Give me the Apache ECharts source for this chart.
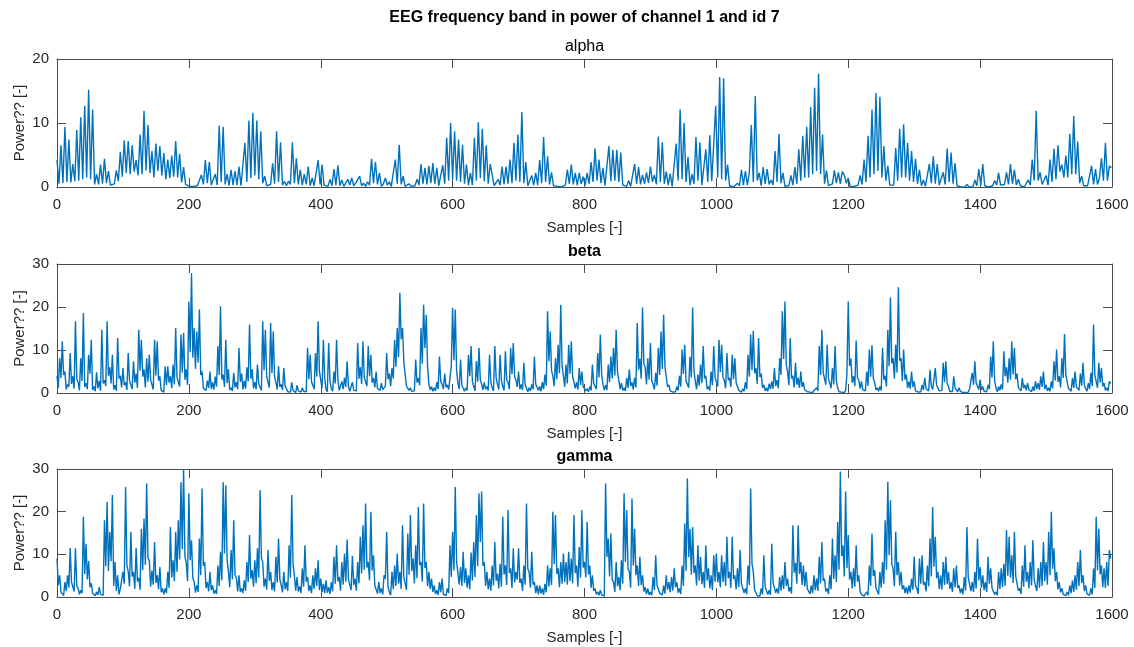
<!DOCTYPE html>
<html>
<head>
<meta charset="utf-8">
<title>EEG frequency band power</title>
<script src="https://cdn.jsdelivr.net/npm/echarts/dist/echarts.min.js"></script>
<style>
  html, body { margin: 0; padding: 0; background: #ffffff; }
  #main { width: 1134px; height: 647px; }
</style>
</head>
<body>
<div id="main"></div>
<script>
// ---- data -------------------------------------------------------------
const mainTitle = 'EEG frequency band in power of channel 1 and id 7';
const bandNames = ['alpha', 'beta', 'gamma'];
const bandTitleWeight = ['normal', 'bold', 'bold'];
const xLabel = 'Samples [-]';
const yLabel = 'Power?? [-]';
const xTickMin = 0, xTickMax = 1600, xTickStep = 200;
const yTickMax = [20, 30, 30];
const yTickStep = 10;

// alpha band power, one value every 3 samples
const alphaStep = 3;
const alphaPower = [
  4.2,0.5,6.5,0.6,9.4,0.8,7.4,0.7,3.6,0.9,8.9,1.0,10.9,1.2,12.7,1.5,15.2,1.2,12.1,0.4,
  2.0,0.4,3.5,0.5,4.4,0.6,2.5,0.3,0.2,0.5,2.6,0.9,5.5,1.6,7.3,2.2,7.2,2.0,6.5,2.4,
  4.2,1.8,8.2,2.0,11.9,2.6,9.7,2.2,5.6,1.5,6.8,2.5,6.4,1.8,5.3,1.2,4.3,1.4,4.9,1.6,
  7.2,1.5,5.2,0.7,3.1,0.4,0.1,0.1,0.0,0.1,0.0,0.2,0.5,1.9,0.4,4.2,0.6,3.9,0.3,0.2,
  2.0,0.3,9.6,0.8,9.4,0.4,2.0,0.2,2.7,0.3,2.5,0.3,3.2,0.2,0.5,6.9,0.8,10.4,1.4,11.6,
  1.8,10.4,1.2,8.7,0.6,1.7,0.2,0.1,0.4,3.7,0.5,8.7,0.8,7.0,0.3,0.9,0.2,0.9,0.4,7.0,
  0.6,4.5,0.4,2.7,0.3,2.0,0.4,3.2,0.2,1.4,0.2,0.3,4.2,0.4,3.5,0.3,0.2,0.1,1.2,0.2,
  2.8,0.3,3.4,0.2,1.1,0.1,0.2,1.2,0.3,1.4,0.2,0.6,0.3,1.7,0.2,0.6,0.1,0.8,0.3,4.4,
  0.6,3.9,0.4,2.2,0.1,0.5,1.4,0.3,0.8,0.1,0.2,4.3,0.5,6.6,0.4,1.7,0.1,0.1,0.5,0.1,
  0.1,0.2,1.2,0.3,3.6,0.5,3.0,0.4,3.3,0.6,3.75,0.5,3.0,0.2,0.1,3.4,0.5,7.7,1.0,10.0,
  1.2,8.7,1.0,7.4,0.8,6.6,0.5,3.5,0.3,2.2,0.3,7.7,1.0,10.1,1.4,9.1,0.9,6.5,0.5,3.6,
  1.9,0.2,0.1,1.2,0.3,3.2,0.4,3.2,0.5,4.3,0.6,6.9,1.0,8.2,0.8,11.7,0.6,3.9,0.2,0.5,
  1.8,0.3,2.2,0.3,4.2,0.6,7.8,0.8,4.8,0.4,2.3,0.2,0.4,0.1,0.1,0.0,0.1,0.3,2.7,0.5,
  3.5,0.4,2.2,0.3,2.2,0.5,1.6,0.3,2.2,0.5,3.9,0.8,6.0,1.0,4.3,0.6,3.0,0.2,0.3,6.4,
  0.9,5.8,1.0,5.8,0.8,5.4,0.3,0.2,0.1,1.0,0.1,0.2,3.6,0.5,3.1,0.4,1.9,0.5,2.3,0.6,
  3.2,0.8,1.9,0.4,7.9,0.8,7.0,0.5,2.4,0.3,2.1,0.1,0.3,6.8,1.0,12.1,1.2,10.0,0.8,4.7,
  0.3,2.0,0.5,7.8,1.0,7.0,0.3,0.6,5.9,0.8,8.1,0.9,0.6,12.7,1.5,17.2,1.2,17.0,1.0,3.5,
  0.2,0.1,0.0,0.1,0.6,0.2,2.7,0.3,2.5,0.3,2.3,9.7,0.8,14.2,1.0,2.2,0.2,3.1,0.5,2.8,
  0.4,1.1,0.3,5.6,0.8,8.3,0.6,2.2,0.1,0.1,0.2,1.8,0.3,3.1,0.5,5.9,1.0,8.0,1.5,9.4,
  1.5,12.5,2.0,15.5,2.5,17.7,2.0,8.2,0.5,2.6,0.2,0.1,0.5,2.6,0.6,2.3,0.5,2.4,1.9,0.6,
  1.4,0.1,0.0,0.1,0.0,0.3,1.8,0.4,4.3,0.8,8.0,1.5,12.1,2.0,14.7,2.5,14.1,1.5,6.4,1.0,
  3.3,0.3,0.0,0.3,6.1,1.0,9.1,1.5,9.8,1.5,6.9,1.0,5.6,0.8,4.4,0.5,2.7,0.2,1.1,0.1,
  0.2,3.6,0.6,4.8,0.5,3.6,0.3,0.2,2.3,0.4,6.0,0.8,5.4,0.5,3.75,0.2,0.1,0.0,0.1,0.0,
  0.4,0.0,0.1,0.0,1.1,0.2,2.8,0.3,3.6,0.2,0.1,0.0,0.1,0.2,1.0,0.3,2.2,0.3,0.2,0.4,
  2.3,0.4,3.6,0.5,2.7,0.3,1.2,0.2,0.1,0.0,0.1,1.1,0.3,4.3,1.0,11.9,1.0,2.3,0.4,0.1,
  1.8,0.3,4.3,0.8,6.0,1.2,6.5,2.4,3.5,1.5,4.9,1.5,8.3,2.0,11.1,2.0,7.1,0.6,1.7,0.2,
  0.1,0.2,0.5,3.3,0.4,2.8,0.4,1.4,4.5,1.0,6.9,1.0,3.3,3.0
];

// beta band power, one value every 2 samples
const betaStep = 2;
const betaPower = [
  4,1.2,8.1,3.5,12,4.2,5,0.8,2,1.5,9.3,2.1,3.9,1.0,16.7,3.2,2.5,0.6,8.1,2.8,18.6,1.4,2.3,0.9,8.9,4.5,12.4,0.7,1.5,0.4,4.8,1.1,2.8,0.5,14.7,2.2,3.0,1.6,16.7,4.0,6,2.2,8.9,0.8,1.8,0.5,12.8,3.4,4,1.3,
  5.8,1.8,2.5,0.7,9.3,2.9,2.7,0.9,7.4,2.4,4.5,1.2,14.7,5.2,12.4,3.8,5.5,1.3,8.1,2.6,8.9,3.1,3.5,0.8,12.4,4.1,12,2.9,3.9,0.6,0.4,0.2,6.2,1.9,6.2,2.4,3.9,1.1,6.6,2.0,15.1,3.6,4.0,1.5,13.6,4.8,14.0,3.1,5.5,1.9,
  21.3,9.5,27.9,8.2,15.1,5.6,14.3,7.1,19.4,4.2,5,1.1,1.5,0.6,2.9,1.2,5,0.9,2.5,0.8,3.8,1.5,10.9,4.2,20.2,3.1,4.3,1.4,12.4,2.3,5.5,0.7,1.2,0.5,4.7,1.3,2.5,0.9,10.5,2.6,4.5,0.8,2.8,1.0,6,2.7,15.9,3.3,5.5,1.1,
  2.5,0.9,6.6,2.1,2.0,0.6,16.7,5.3,14.7,3.9,3.5,1.2,16.3,4.6,14.3,3.7,2.5,0.8,6.2,1.4,2.0,0.7,5.8,1.6,1.0,0.3,0.5,0.2,2.5,0.6,0.4,0.1,1.8,0.5,0.3,0.2,1.2,0.4,0.8,0.3,10.5,3.2,8.9,2.6,2.2,0.9,9.3,3.8,16.7,5.1,
  3,1.1,12.4,3.6,0.8,0.3,11.6,2.8,1.0,0.4,5,2.2,12.4,3.1,0.6,0.2,2.7,0.9,3.5,1.4,7.4,1.5,0.4,0.2,2.5,0.6,0.8,0.5,11.6,3.3,6,2.1,12,3.6,4,1.6,10.9,3.9,8.9,2.4,3.5,1.3,5,1.1,1.5,0.6,2.3,0.8,1.2,1.6,
  9.3,3.2,4.5,1.6,5.8,3.4,12.4,6.1,15.1,8.3,23.3,12.5,15.1,7.2,4.3,1.6,1.9,0.6,1.2,0.4,0.8,0.5,7.8,2.4,3.5,1.8,15.1,6.8,20.5,10.4,18.2,6.2,2.0,0.7,1.5,0.4,1.2,0.5,2.5,0.9,8.5,2.7,2.0,0.9,4.5,1.3,1.9,0.8,3.5,6.4,
  19.8,7.6,19.4,5.4,2.3,0.9,7.8,1.8,1.5,0.4,1.2,0.6,8.9,3.9,10.9,2.7,1.5,0.5,7.4,2.6,10.5,3.1,2.0,0.7,2.5,0.9,1.5,0.6,8.9,2.4,1.2,0.5,10.9,3.5,2.0,0.8,8.9,2.9,1.5,0.6,9.7,3.0,2.5,0.9,10.5,4.4,11.6,3.8,3,1.4,
  5,0.9,2,0.7,7,1.9,1.5,0.3,1.2,0.5,2,0.8,8.5,2.1,2.5,0.6,1.5,0.4,2.5,0.9,4.3,1.7,19,7.4,14.3,5.2,4,1.6,8.1,3.2,11.2,4.6,20.5,6.3,4,1.4,6.6,2.2,11.2,4.5,12,3.9,4,1.1,2.5,0.8,5.8,1.9,5,1.5,
  1.9,0.5,1.0,0.3,1.5,0.6,6.6,2.2,2.5,0.9,9.3,3.6,13.6,4.3,2.0,0.6,1.9,0.7,6.6,2.5,8.5,3.4,10.5,4.1,14.7,5.0,3.0,0.9,2.3,0.6,1.2,0.5,3.5,1.2,5.5,1.6,2.5,0.8,3.5,1.3,16.3,5.4,8,3.3,19.9,6.8,6,2.0,8.1,3.1,
  11.6,2.9,2.0,0.8,4.7,1.7,10.5,4.2,14.3,5.6,18.2,6.1,5.8,1.4,1.9,0.5,0.8,0.2,0.4,0.3,1.5,0.6,4,1.5,10.1,4.4,11.2,2.8,3,1.2,8.5,3.6,19.9,5.2,2.7,0.9,4.3,1.7,6.6,2.3,10.9,3.4,4,0.9,1.5,0.6,5,1.8,10.9,3.6,
  4,1.5,12.4,4.9,11.2,3.6,3,1.1,9.3,3.0,3.5,1.4,8.9,3.2,8.1,2.4,2,0.6,0.6,0.2,1.0,0.4,2.5,0.9,8.9,3.8,13.6,5.3,14.5,4.6,5.8,2.1,12.8,3.7,4.5,1.2,1.9,0.5,1.2,0.4,2.2,0.9,2.7,1.0,5.8,1.6,3,1.1,8.1,4.2,
  19,7.9,21.3,6.5,5,1.8,12.8,3.4,4,1.3,7,1.9,3.5,1.2,5,1.4,2.5,0.7,1.0,0.3,0.5,0.2,0.3,0.1,0.6,0.3,1.2,0.5,10.9,4.2,14.7,4.8,5,1.9,11.2,3.4,3.5,1.1,5.8,2.0,10.9,2.8,1.2,0.3,0.6,0.2,0.3,0.1,0.6,4.5,
  21.3,6.3,8,2.4,3.9,1.6,12.2,3.5,3,1.0,2.7,0.8,1.2,0.5,5,1.7,10.1,3.8,11.1,3.4,2.5,0.7,1.2,0.4,1.5,0.6,10.5,3.1,4,1.5,14.7,6.2,22.2,6.9,8.1,3.3,11.2,4.7,24.6,7.5,8.1,2.8,10.1,3.1,4.3,1.2,2.7,1.0,5,1.4,
  2.7,0.5,0.6,0.2,0.4,0.3,1.9,0.7,3.5,1.0,1.2,0.5,5.4,1.6,0.8,0.4,5.8,1.8,1.5,0.5,0.9,0.6,7,2.5,7.4,2.2,1.5,0.4,0.5,0.3,3.9,1.1,1.0,0.3,1.2,0.4,0.4,0.1,0.3,0.1,0.4,0.2,1.0,0.6,4.7,1.9,7.4,2.3,1.9,0.8,
  3.1,0.7,1.5,0.4,0.8,0.3,1.9,0.9,8.5,3.6,12,2.8,1.2,0.3,1.5,0.6,2.0,0.8,9.7,3.9,6,2.4,8.1,3.1,12,4.3,10.5,3.2,4.5,1.2,1.5,0.5,3.5,1.1,1.9,0.6,2.3,0.7,0.8,0.3,1.5,0.5,2.7,0.9,2.3,0.8,3.9,1.4,5,0.9,
  1.9,0.5,1.2,0.4,2.7,1.1,7.4,2.9,10.1,2.6,3.9,1.3,8.1,3.5,13.7,4.2,4.3,1.1,1.0,0.4,3.5,1.2,5,1.4,1.5,0.6,4.5,1.7,7,1.9,1.0,0.4,2.3,0.9,4.7,1.6,15.9,4.1,2.7,1.2,7,2.4,5.8,1.5,2.3,0.6,1.2,0.5,2.7,2.2
];

// gamma band power, one value every 2 samples
const gammaStep = 2;
const gammaPower = [
  9,2.8,5.1,1.2,0.8,0.3,3.5,1.4,5.1,2.2,11.5,3.5,3.9,1.3,11.4,2.6,2.0,0.6,1.6,0.9,18.8,5.4,12.5,4.1,8.4,2.3,3.2,0.9,0.8,0.3,1.2,0.5,2.3,0.6,0.8,0.4,18,7.2,22.3,6.1,15.3,8.4,23.9,2.6,8.2,1.4,5.1,0.6,1.9,1.8,
  5.9,3.1,25.8,7.4,6.0,2.5,15.3,4.8,5.9,1.9,11.5,3.6,4.5,1.7,16,6.3,18.4,7.5,26.6,9.1,8.6,2.4,6.2,2.9,12.9,3.3,5.1,1.8,7,1.1,2.0,0.6,2.0,0.9,5.9,2.1,16.4,4.6,8.6,3.7,15.3,5.9,18,8.8,26.9,11.2,30,9.4,8,3.7,
  24.3,8.6,13.3,4.4,3.5,1.0,2.7,1.2,13.7,5.1,25.4,7.3,8.2,2.1,3.5,1.3,5.9,1.6,2.7,0.8,1.6,0.7,7.4,2.6,10.6,3.9,26.9,10.2,26.2,8.7,5.9,2.3,11,4.1,18,5.2,4.5,1.3,5.1,1.2,2.0,0.9,3.9,1.4,8.2,3.5,14.5,4.3,6.3,2.4,
  8.6,3.2,11.4,4.6,25.1,9.1,8.2,2.4,4.3,1.7,11,3.8,5.9,1.6,3.5,1.3,9.4,3.4,13.7,4.1,2.7,1.1,5.9,1.8,3.5,1.4,12.1,4.5,23.9,7.6,5.1,1.5,4.7,1.3,2.5,0.9,6.7,2.4,12.1,3.6,4.7,1.4,2.7,0.9,5.1,1.9,6.7,2.6,8.6,1.6,
  4.3,1.2,3.1,0.9,3.9,1.0,2.3,0.7,3.5,1.3,9.4,3.1,12.1,3.7,4.7,1.5,8.2,2.9,10.2,3.6,13.5,4.2,4.3,1.6,9.6,2.8,4.3,1.5,8.2,3.2,14.1,5.5,16.8,6.4,21.9,6.9,8.2,3.9,20,6.2,9.8,2.7,2.3,0.8,3.5,0.9,2.0,0.6,5.1,4.3,
  15.3,2.4,1.2,0.4,5.9,1.8,7.4,2.6,10.2,3.1,5.9,1.9,16.8,4.6,4.3,1.7,14.9,5.2,19.2,6.1,9,3.2,12.1,4.4,21.1,7.5,8.2,3.6,21.9,6.8,8.2,2.5,5.9,1.9,4.3,1.2,2.7,0.7,1.6,0.5,3.5,1.1,4.3,0.6,0.8,0.3,2.0,0.9,12.1,4.7,
  15.3,6.2,25.8,8.4,8.2,2.9,7,2.6,10.6,3.3,6.7,2.2,5.1,1.8,10.4,3.9,12.9,4.7,19.2,7.2,24.3,12.9,24.7,7.3,8.2,2.6,5.9,1.8,4.3,1.5,7.4,2.7,12.9,3.8,5.5,2.0,7.8,2.4,18.8,5.3,7.4,2.8,20.4,5.6,6.7,2.1,11.4,3.4,5.9,4.1,
  11.4,3.3,4.3,1.4,7.4,2.9,21.9,6.6,5.9,2.2,10.6,2.9,3.5,0.9,2.7,0.6,2.7,0.8,2.0,0.5,3.1,1.1,7.4,2.5,6.7,2.8,20,7.7,19.2,5.4,6.7,2.3,8.2,3.1,10.2,3.5,8.2,2.9,10.6,3.7,9,3.2,19.2,5.6,7.4,2.4,11.7,4.5,20.4,6.9,
  8.2,4.6,17.6,5.3,7.4,2.1,5.1,1.4,2.0,0.6,1.2,0.4,1.6,0.5,0.4,0.2,26.6,9.4,13.7,4.8,14.9,4.1,3.5,1.2,8.2,2.5,4.7,1.6,8.6,3.1,24.3,8.2,20.4,6.6,5.9,2.2,23.1,7.4,16,5.1,7.4,2.6,9.4,2.8,5.1,1.3,2.3,0.7,2.0,0.5,
  1.2,0.4,4.7,1.6,9.8,2.8,3.1,0.9,1.2,0.5,2.7,0.8,5.1,1.7,3.5,1.1,4.7,1.5,6.7,2.3,3.5,1.0,2.0,0.7,7.4,2.6,17.2,6.1,27.8,9.3,16,5.2,16.4,5.6,7.4,2.7,12.1,3.8,9.4,3.0,5.9,2.1,12.1,3.9,6.7,2.0,5.1,1.6,9.8,3.6,
  10.2,3.4,5.9,2.3,9.8,3.5,8.2,2.6,14.1,4.4,5.9,2.1,14.1,4.2,5.1,1.8,6.7,2.3,11,3.1,3.5,1.0,2.0,0.7,7.4,2.8,25.4,7.9,5.9,1.6,1.0,0.3,0.4,0.2,2.0,0.6,9.8,2.4,2.0,0.6,1.6,0.5,12.5,3.3,3.5,1.0,2.0,0.8,4.7,1.5,
  5.1,1.9,8.2,2.6,4.3,1.3,2.3,0.8,16.8,5.7,8,3.1,16.8,5.4,8.2,2.8,7.4,2.5,5.9,1.9,2.0,0.7,2.7,0.9,5.1,1.6,4.3,1.4,9.4,3.2,12.9,3.8,4.3,1.3,2.0,0.7,5.1,1.8,13.7,4.2,9.8,3.5,17.6,6.4,29.4,9.6,12.1,4.8,24.7,6.8,
  14.5,4.1,5.9,2.0,6.7,2.4,12.1,3.6,5.1,1.2,0.6,0.2,0.2,0.1,1.2,0.4,7.4,2.6,14.9,4.9,6.3,2.1,2.0,0.6,5.9,2.2,8.2,3.1,18,6.4,27,9.8,22.7,7.7,6.7,2.5,15.3,5.1,8.2,2.7,5.9,1.8,2.7,0.9,2.3,0.7,2.7,1.0,4.3,1.7,
  9.4,2.6,2.0,0.7,9,3.1,9.8,2.9,3.5,1.3,7.4,2.5,13.7,4.8,21.1,7.1,14.1,4.4,5.9,1.9,5.1,1.7,8.2,2.8,9.4,3.0,5.9,1.9,3.5,1.2,6.7,2.3,7.4,2.1,2.7,0.9,2.0,0.6,4.7,1.5,16.4,4.6,4.3,1.4,3.5,1.2,5.9,2.0,13.7,3.9,
  7,2.2,5.1,1.6,3.5,1.2,9.4,3.1,6.7,2.1,2.0,0.6,1.2,0.4,5.9,1.9,6.7,2.3,7.8,2.6,15.7,5.0,14.1,4.5,9.8,3.3,15.3,4.8,5.1,1.5,2.0,0.7,7.4,2.4,12.1,3.6,5.9,2.0,8.2,2.7,13.3,3.9,4.3,1.4,6.7,2.2,8.2,2.6,12.9,3.7,
  8.2,2.9,15.3,5.1,20,6.6,11.4,3.7,5.9,1.8,3.5,1.1,2.0,0.6,0.8,0.3,1.2,0.4,2.7,0.9,3.9,1.2,5.1,1.7,8.2,2.6,11,3.3,5.1,1.4,2.7,0.8,1.2,0.4,2.0,0.6,6.7,2.1,18.8,6.2,16,5.3,7.4,2.3,6.7,2.1,8.2,2.6,11,9
];

const bandPower = [alphaPower, betaPower, gammaPower];
const bandStep = [alphaStep, betaStep, gammaStep];

// ---- layout -----------------------------------------------------------
const fontFamily = '"Liberation Sans", Arial, Helvetica, sans-serif';
const textColor = '#262626';
const axisColor = '#4a4a4a';
const lineColor = '#0072BD';
const plotLeft = 57, plotRight = 22;
const panels = [
  { top: 59, height: 128 },
  { top: 264, height: 129 },
  { top: 469, height: 128 }
];
const centerX = 57 + (1134 - 57 - 22) / 2;

const grid = panels.map(p => ({
  left: plotLeft, right: plotRight, top: p.top, height: p.height,
  show: false, containLabel: false
}));

const xAxis = [];
const yAxis = [];
const series = [];
const plainNumber = v => String(v);

bandNames.forEach((name, k) => {
  // bottom axis with labels
  xAxis.push({
    type: 'value', gridIndex: k, position: 'bottom',
    min: xTickMin, max: xTickMax, interval: xTickStep,
    name: xLabel, nameLocation: 'middle', nameGap: 33, nameMoveOverlap: false,
    nameTextStyle: { fontFamily, fontSize: 15, color: textColor },
    axisLine: { show: true, onZero: false, lineStyle: { color: axisColor, width: 1 } },
    axisTick: { show: true, inside: true, length: 9, lineStyle: { color: axisColor } },
    axisLabel: { show: true, fontFamily, fontSize: 15, color: textColor, margin: 10, formatter: plainNumber },
    splitLine: { show: false }
  });
  // top border axis
  xAxis.push({
    type: 'value', gridIndex: k, position: 'top',
    min: xTickMin, max: xTickMax, interval: xTickStep,
    axisLine: { show: true, onZero: false, lineStyle: { color: axisColor, width: 1 } },
    axisTick: { show: true, inside: true, length: 9, lineStyle: { color: axisColor } },
    axisLabel: { show: false },
    splitLine: { show: false }
  });
  // left axis with labels
  yAxis.push({
    type: 'value', gridIndex: k, position: 'left',
    min: 0, max: yTickMax[k], interval: yTickStep,
    name: yLabel, nameLocation: 'middle', nameGap: 30, nameRotate: 90, nameMoveOverlap: false,
    nameTextStyle: { fontFamily, fontSize: 15, color: textColor },
    axisLine: { show: true, onZero: false, lineStyle: { color: axisColor, width: 1 } },
    axisTick: { show: true, inside: true, length: 9, lineStyle: { color: axisColor } },
    axisLabel: { show: true, fontFamily, fontSize: 15, color: textColor, margin: 8, formatter: plainNumber },
    splitLine: { show: false }
  });
  // right border axis
  yAxis.push({
    type: 'value', gridIndex: k, position: 'right',
    min: 0, max: yTickMax[k], interval: yTickStep,
    axisLine: { show: true, onZero: false, lineStyle: { color: axisColor, width: 1 } },
    axisTick: { show: true, inside: true, length: 9, lineStyle: { color: axisColor } },
    axisLabel: { show: false },
    splitLine: { show: false }
  });

  const step = bandStep[k];
  series.push({
    name,
    type: 'line',
    xAxisIndex: 2 * k,
    yAxisIndex: 2 * k,
    data: bandPower[k].map((v, i) => [i * step, v]),
    showSymbol: false,
    symbol: 'none',
    lineStyle: { color: lineColor, width: 1.4 },
    emphasis: { disabled: true },
    animation: false,
    z: 1
  });
});

const titleTops = [39, 244, 449];
const title = [{
  text: mainTitle, left: centerX, top: 10, textAlign: 'center', padding: 0,
  textStyle: { fontFamily, fontSize: 16, fontWeight: 'bold', color: '#000000' }
}].concat(bandNames.map((name, k) => ({
  text: name, left: centerX, top: titleTops[k], textAlign: 'center', padding: 0,
  textStyle: { fontFamily, fontSize: 16, fontWeight: bandTitleWeight[k], color: '#000000' }
})));

const chart = echarts.init(document.getElementById('main'), null, { renderer: 'canvas' });
chart.setOption({
  backgroundColor: '#ffffff',
  animation: false,
  title,
  grid,
  xAxis,
  yAxis,
  series,
  tooltip: { show: false },
  legend: { show: false }
});
</script>
</body>
</html>
